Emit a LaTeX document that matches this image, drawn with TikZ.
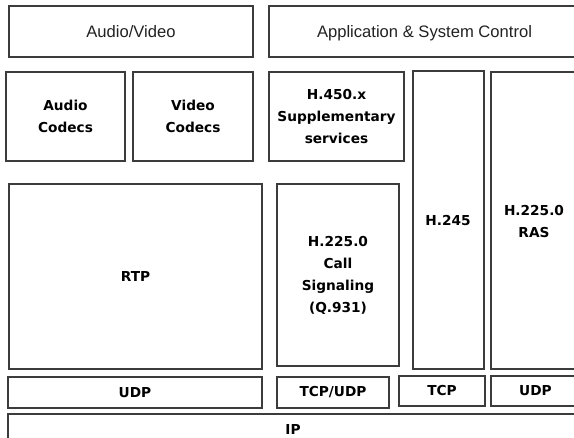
\documentclass[tikz,border=0pt]{standalone}
\usepackage{fontspec}
\setmainfont{DejaVu Sans}
\newfontfamily\dvb{DejaVu Sans}
\newfontfamily\arialf{Liberation Sans}
\definecolor{linec}{HTML}{3C3C3C}
\definecolor{txtc}{HTML}{222222}
\tikzset{
  box/.style={draw=linec, line width=1.5pt, inner sep=0pt, align=center,
    font=\dvb\bfseries\fontsize{13.7}{22}\selectfont, text=black},
  toplbl/.style={box, font=\arialf\fontsize{16.6}{20}\selectfont, text=txtc,
    text height=12pt, text depth=0pt},
  lbl/.style={inner sep=0pt, align=center,
    font=\dvb\bfseries\fontsize{13.7}{22.5}\selectfont, text=black}
}
\newcommand\mybox[7][box]{%
  \node[#1, minimum width={(#5-#3)*1pt}, minimum height={(#6-#4)*1pt}]
    (#2) at ({(#3+#5)/2*1pt},{-(#4+#6)/2*1pt}) {#7};}
\begin{document}
\begin{tikzpicture}
\useasboundingbox (0,0) rectangle (574pt,-438pt);
\clip (0,0) rectangle (574pt,-438pt);
\fill[white] (0,0) rectangle (574pt,-438pt);
\mybox[toplbl]{av}{9}{6}{253}{57}{Audio/Video}
\mybox[toplbl]{app}{269}{6}{580}{57}{Application \& System Control}
\mybox{acod}{6}{72}{125}{161}{Audio\\Codecs}
\mybox{vcod}{133}{72}{253}{161}{Video\\Codecs}
\mybox{hfour}{269}{72}{404}{161}{H.450.x\\Supplementary\\services}
\mybox{htwo}{413}{71}{484}{369}{}
\mybox{ras}{491}{72}{580}{369}{}
\mybox{rtp}{9}{184}{262}{369}{RTP}
\mybox{csig}{277}{184}{399}{366}{H.225.0\\Call\\Signaling\\(Q.931)}
\mybox{udpa}{8}{377}{262}{408}{UDP}
\mybox{tcpudp}{277}{377}{389}{408}{TCP/UDP}
\mybox{tcp}{399}{376}{485}{406}{TCP}
\mybox{udpb}{491}{376}{580}{406}{UDP}
\mybox{ip}{8}{414}{578}{446}{IP}
\node[lbl] (htwot) at (448pt,-221pt) {H.245};
\node[lbl] (rast) at (534pt,-221.5pt) {H.225.0\\RAS};
\end{tikzpicture}
\end{document}
